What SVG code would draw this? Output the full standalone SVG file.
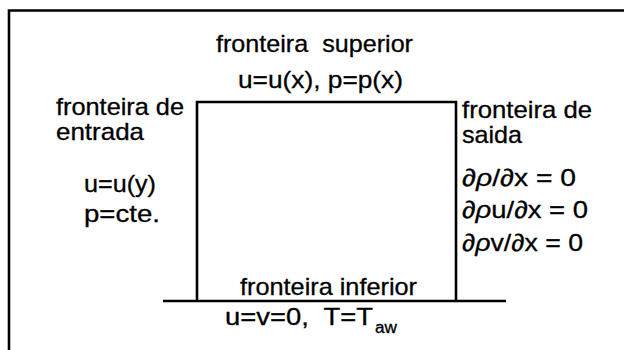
<svg xmlns="http://www.w3.org/2000/svg" width="624" height="350" viewBox="0 0 624 350">
<style>
text{font-family:"Liberation Sans",Arial,sans-serif;font-size:24px;fill:#000;stroke:#000;stroke-width:0.3}
.ln{stroke:#000;stroke-width:2.6;fill:none}
.sub{font-size:16px}
</style>
<rect width="624" height="350" fill="#fff"/>
<g id="frame">
<path class="ln" d="M9,350 V10.5 H624"/>
</g>
<g id="connectors">
<path class="ln" d="M163,301 H506"/>
</g>
<g id="domain">
<path class="ln" d="M197,301 V102 H456 V301"/>
</g>
<g id="top">
<text x="216" y="52" textLength="197" lengthAdjust="spacingAndGlyphs" xml:space="preserve">fronteira  superior</text>
<text x="238" y="88" textLength="165" lengthAdjust="spacingAndGlyphs">u=u(x), p=p(x)</text>
</g>
<g id="inlet">
<text x="56" y="115" textLength="128" lengthAdjust="spacingAndGlyphs">fronteira de</text>
<text x="56" y="140" textLength="88" lengthAdjust="spacingAndGlyphs">entrada</text>
<text x="84" y="192" textLength="72" lengthAdjust="spacingAndGlyphs">u=u(y)</text>
<text x="84" y="222" textLength="76" lengthAdjust="spacingAndGlyphs">p=cte.</text>
</g>
<g id="outlet">
<text x="462" y="118" textLength="130" lengthAdjust="spacingAndGlyphs">fronteira de</text>
<text x="462" y="143" textLength="60" lengthAdjust="spacingAndGlyphs">saida</text>
<text x="462" y="186" textLength="114" lengthAdjust="spacingAndGlyphs">∂<tspan font-style="italic">ρ</tspan>/∂x = 0</text>
<text x="462" y="218" textLength="126" lengthAdjust="spacingAndGlyphs">∂<tspan font-style="italic">ρ</tspan>u/∂x = 0</text>
<text x="462" y="251" textLength="121" lengthAdjust="spacingAndGlyphs">∂<tspan font-style="italic">ρ</tspan>v/∂x = 0</text>
</g>
<g id="bottom">
<text x="240" y="295" textLength="177" lengthAdjust="spacingAndGlyphs">fronteira inferior</text>
<text x="225" y="325" textLength="148" lengthAdjust="spacingAndGlyphs" xml:space="preserve">u=v=0,  T=T</text>
<text class="sub" x="375" y="333" textLength="22" lengthAdjust="spacingAndGlyphs">aw</text>
</g>
</svg>
